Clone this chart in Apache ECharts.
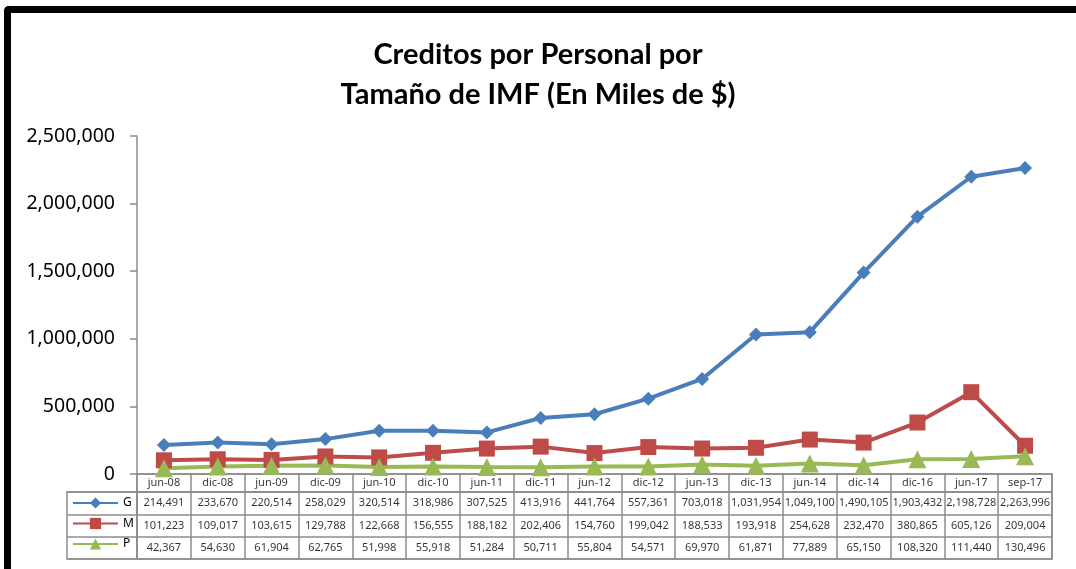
<!DOCTYPE html>
<html>
<head>
<meta charset="utf-8">
<script src="https://cdn.jsdelivr.net/npm/echarts@6/dist/echarts.min.js"></script>
<style>
  body { margin: 0; background: #fff; }
  #con { position: absolute; left: 0; top: 0; width: 1076px; height: 569px; }
  #frame { position: absolute; left: 4px; top: 6px; width: 1090px; height: 558px;
           border-left: 7px solid #000; border-top: 7px solid #000; border-bottom: 2px solid #000;
           border-top-left-radius: 5px; pointer-events: none; }
</style>
</head>
<body>
<div id="con"></div>
<div id="frame"></div>
<script>
// periodos
var categories = ['jun-08','dic-08','jun-09','dic-09','jun-10','dic-10','jun-11','dic-11','jun-12',
                  'dic-12','jun-13','dic-13','jun-14','dic-14','dic-16','jun-17','sep-17'];
var seriesG = [214491,233670,220514,258029,320514,318986,307525,413916,441764,
               557361,703018,1031954,1049100,1490105,1903432,2198728,2263996];
var seriesM = [101223,109017,103615,129788,122668,156555,188182,202406,154760,
               199042,188533,193918,254628,232470,380865,605126,209004];
var seriesP = [42367,54630,61904,62765,51998,55918,51284,50711,55804,
               54571,69970,61871,77889,65150,108320,111440,130496];
var rowNames = ['G','M','P'];
var yTicks = { min: 0, max: 2500000, interval: 500000 };

var colors = { G: '#4A7EBB', M: '#BE4B48', P: '#98B954' };
var gridLine = '#8c8c8c';
var fmt = function(v) { return Number(v).toLocaleString('en-US'); };

var show = function() {
    var myChart = echarts.init(document.getElementById('con'));

    // celdas de la tabla de datos
    var cells = [];
    var rows = [seriesG, seriesM, seriesP];
    for (var r = 0; r < rows.length; r++) {
        for (var i = 0; i < categories.length; i++) {
            cells.push({ value: [i, rowNames[r], rows[r][i]] });
        }
    }
    var header = [];
    for (var i = 0; i < categories.length; i++) {
        header.push({ value: [i, 0], name: categories[i] });
    }

    var hiddenAxis = { show: true, axisLine: { show: false }, axisTick: { show: false }, axisLabel: { show: false } };

    var option = {
        animation: false,
        title: {
            text: 'Creditos por Personal por\nTamaño de IMF (En Miles de $)',
            left: 'center',
            top: 30,
            textStyle: { fontFamily: 'Lato', fontWeight: 'bold', fontSize: 29, lineHeight: 40, color: '#000' }
        },
        legend: {
            data: rowNames,
            orient: 'vertical',
            left: 67,
            top: 492,
            itemWidth: 45,
            itemHeight: 14,
            itemGap: 8.5,
            textStyle: { fontFamily: 'Noto Sans', fontSize: 12, color: '#000' }
        },
        grid: [
            { left: 137, width: 915, top: 136, height: 338 },
            { left: 137, width: 915, top: 474, height: 18, show: true, borderColor: gridLine, borderWidth: 1.5 },
            { left: 137, width: 915, top: 492, height: 67, show: true, borderColor: gridLine, borderWidth: 1.5 },
            { left: 67, width: 70, top: 492, height: 67, show: true, borderColor: gridLine, borderWidth: 1.5 }
        ],
        xAxis: [
            { type: 'category', gridIndex: 0, data: categories, boundaryGap: true,
              axisLine: { lineStyle: { color: gridLine, width: 1.5 } },
              axisTick: { show: false }, axisLabel: { show: false } },
            Object.assign({ type: 'category', gridIndex: 1, data: categories, boundaryGap: true,
              splitLine: { show: true, interval: 0, lineStyle: { color: gridLine, width: 1.5 } } }, hiddenAxis),
            Object.assign({ type: 'category', gridIndex: 2, data: categories, boundaryGap: true,
              splitLine: { show: true, interval: 0, lineStyle: { color: gridLine, width: 1.5 } } }, hiddenAxis),
            Object.assign({ type: 'value', gridIndex: 3, min: 0, max: 1 }, hiddenAxis, { splitLine: { show: false } })
        ],
        yAxis: [
            { type: 'value', gridIndex: 0, min: yTicks.min, max: yTicks.max, interval: yTicks.interval,
              splitLine: { show: false },
              axisLine: { show: true, lineStyle: { color: gridLine, width: 1.5 } },
              axisTick: { show: true, length: 7, lineStyle: { color: gridLine, width: 1.5 } },
              axisLabel: { formatter: fmt, fontFamily: 'Noto Sans', fontSize: 19.5, color: '#000', margin: 22 } },
            Object.assign({ type: 'value', gridIndex: 1, min: -1, max: 1 }, hiddenAxis, { splitLine: { show: false } }),
            Object.assign({ type: 'category', gridIndex: 2, data: rowNames, inverse: true,
              splitLine: { show: true, interval: 0, lineStyle: { color: gridLine, width: 1.5 } } }, hiddenAxis),
            Object.assign({ type: 'category', gridIndex: 3, data: rowNames, inverse: true,
              splitLine: { show: true, interval: 0, lineStyle: { color: gridLine, width: 1.5 } } }, hiddenAxis)
        ],
        series: [
            { name: 'G', type: 'line', data: seriesG, color: colors.G,
              symbol: 'diamond', symbolSize: 14, lineStyle: { width: 4 } },
            { name: 'M', type: 'line', data: seriesM, color: colors.M,
              symbol: 'rect', symbolSize: 16, lineStyle: { width: 4 } },
            { name: 'P', type: 'line', data: seriesP, color: colors.P,
              symbol: 'triangle', symbolSize: 18, lineStyle: { width: 4 } },
            { type: 'scatter', xAxisIndex: 1, yAxisIndex: 1, data: header, symbolSize: 0,
              label: { show: true, position: 'inside', formatter: function(p) { return p.name; },
                       fontFamily: 'Noto Sans', fontSize: 11, color: '#000' } },
            { type: 'scatter', xAxisIndex: 2, yAxisIndex: 2, data: cells, symbolSize: 0,
              label: { show: true, position: 'inside', formatter: function(p) { return fmt(p.value[2]); },
                       fontFamily: 'Noto Sans', fontSize: 11, color: '#000' } }
        ]
    };
    myChart.setOption(option);
};
show();
</script>
</body>
</html>
